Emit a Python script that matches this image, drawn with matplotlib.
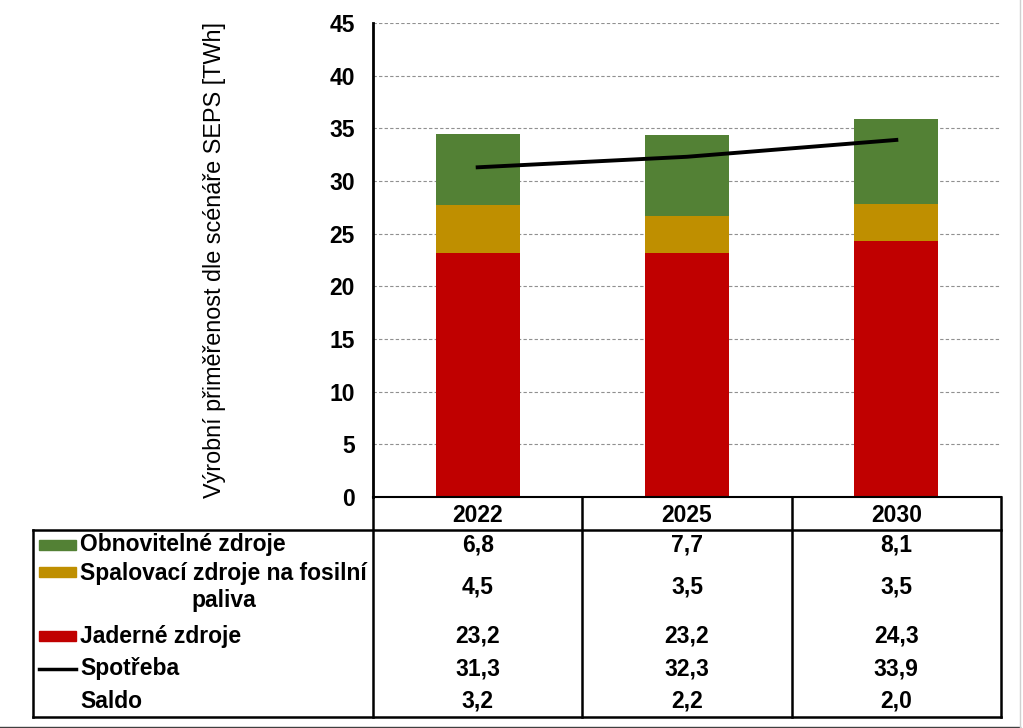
import numpy as np
import matplotlib.pyplot as plt
from matplotlib.lines import Line2D
from matplotlib.patches import Rectangle
import matplotlib.transforms as mtransforms

plt.rcParams['font.family'] = ['Liberation Sans', 'DejaVu Sans']

years = ['2022', '2025', '2030']
obnovitelne = [6.8, 7.7, 8.1]
spalovaci = [4.5, 3.5, 3.5]
jaderne = [23.2, 23.2, 24.3]
spotreba = [31.3, 32.3, 33.9]
saldo = [3.2, 2.2, 2.0]

row_labels = ['Obnovitelné zdroje', 'Spalovací zdroje na fosilní\npaliva',
              'Jaderné zdroje', 'Spotřeba', 'Saldo']
row_values = [obnovitelne, spalovaci, jaderne, spotreba, saldo]

c_green = '#538135'
c_gold = '#BF8F00'
c_red = '#C00000'

W, H = 1023, 728
fs = 16.5
fig = plt.figure(figsize=(W / 100, H / 100), dpi=100)
ax = fig.add_axes([373 / W, 1 - 497 / H, (1001 - 373) / W, (497 - 23) / H])

x = np.arange(len(years))
bw = 0.4
ax.bar(x, jaderne, bw, color=c_red, zorder=2)
ax.bar(x, spalovaci, bw, bottom=jaderne, color=c_gold, zorder=2)
bottom2 = np.array(jaderne) + np.array(spalovaci)
ax.bar(x, obnovitelne, bw, bottom=bottom2, color=c_green, zorder=2)
ax.plot(x, spotreba, color='black', lw=2.8, zorder=3)

ax.set_xlim(-0.5, 2.5)
ax.set_ylim(0, 45)
ax.set_yticks(range(0, 46, 5))
ax.set_xticks([])
ax.tick_params(axis='y', length=0, pad=13, labelsize=fs)
for lab in ax.get_yticklabels():
    lab.set_fontweight('bold')
ax.yaxis.grid(True, color='#909090', ls=(0, (3, 2)), lw=0.8, zorder=0)
for s in ['top', 'right']:
    ax.spines[s].set_visible(False)
ax.spines['left'].set_linewidth(2)
ax.spines['bottom'].set_linewidth(1.5)

fig.text(214 / W, 1 - 260 / H, 'Výrobní přiměřenost dle scénáře SEPS [TWh]',
         rotation=90, ha='center', va='center', fontsize=16.8)

# data table below the axes
tr = mtransforms.blended_transform_factory(ax.transData, fig.transFigure)


def fy(p):
    return 1 - p / H


def fx(p):
    return p / W


lw = 1.8
# header row with years
for i, yr in enumerate(years):
    fig.text(i, fy(516), yr, transform=tr, ha='center', va='center',
             fontsize=fs, fontweight='bold')
for xb in [-0.5, 0.5, 1.5, 2.5]:
    fig.add_artist(Line2D([xb, xb], [fy(497), fy(717)], transform=tr,
                          color='black', lw=lw))
fig.add_artist(Line2D([fx(33), fx(1001)], [fy(530), fy(530)],
                      color='black', lw=lw))
fig.add_artist(Line2D([fx(33), fx(1001)], [fy(717), fy(717)],
                      color='black', lw=lw))
fig.add_artist(Line2D([fx(33), fx(33)], [fy(530), fy(717)],
                      color='black', lw=lw))

row_y = [545, 587, 636, 669, 701]
keys = [c_green, c_gold, c_red, 'line', None]
for lab, vals, yy, key in zip(row_labels, row_values, row_y, keys):
    fig.text(fx(80), fy(yy), lab, ha='left', va='center', fontsize=fs,
             fontweight='bold', multialignment='center', linespacing=1.2)
    for i, v in enumerate(vals):
        fig.text(i, fy(yy), f'{v:.1f}'.replace('.', ','), transform=tr,
                 ha='center', va='center', fontsize=fs, fontweight='bold')
    ky = yy if key != c_gold else 572
    if key == 'line':
        fig.add_artist(Line2D([fx(39), fx(76)], [fy(ky), fy(ky)],
                              color='black', lw=2.5))
    elif key is not None:
        fig.add_artist(Rectangle((fx(39), fy(ky + 5)), 37 / W, 10 / H,
                                 color=key, transform=fig.transFigure))

# chart area border (right and bottom edges)
fig.add_artist(Line2D([fx(0), fx(1020)], [fy(726.5), fy(726.5)],
                      color='#404040', lw=1))
fig.add_artist(Line2D([fx(1020), fx(1020)], [fy(0), fy(726.5)],
                      color='#d0d0d0', lw=1))

fig.savefig('out.png', dpi=100)
